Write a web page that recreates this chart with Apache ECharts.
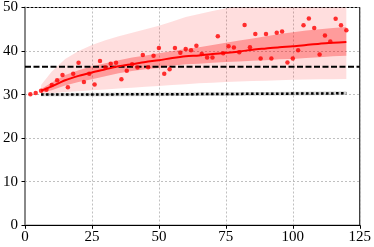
<!DOCTYPE html>
<html><head><meta charset="utf-8">
<script src="https://cdn.jsdelivr.net/npm/echarts@6/dist/echarts.min.js"></script>
<style>html,body{margin:0;padding:0;background:#fff}#c{width:374px;height:247px}</style>
</head><body><div id="c"></div>
<script>
// scatter observations
const pointX = [2,4,6,8,10,12,14,16,18,20,22,24,26,28,30,32,34,36,38,40,42,44,46,48,50,52,54,56,58,60,62,64,66,68,70,72,74,76,78,80,82,84,86,88,90,92,94,96,98,100,102,104,106,108,110,112,114,116,118,120];
const pointY = [30.1,30.4,30.9,31.1,32.2,33.3,34.5,31.7,34.8,37.3,32.9,34.8,32.3,37.7,36.2,37.1,37.3,33.5,35.5,37.0,36.2,39.1,36.3,38.9,40.7,34.8,35.8,40.7,39.6,40.5,40.2,41.2,39.3,38.5,38.5,43.4,39.5,41.1,40.8,39.7,46.0,40.9,43.9,38.3,43.9,38.3,44.2,44.5,37.4,38.3,40.2,45.9,47.5,45.3,39.2,43.6,42.2,47.4,45.9,44.8];
// fitted mean curve and bands
const fitX      = [6,10,15,20,25,30,35,40,45,50,55,60,65,70,75,80,85,90,95,100,105,110,115,120];
const fitMean   = [30.9,31.9,33.3,34.3,35.1,35.8,36.5,37.0,37.5,37.9,38.4,38.8,39.0,39.3,39.6,39.9,40.3,40.6,40.9,41.1,41.4,41.7,41.9,42.1];
const innerHigh = [31.3,32.8,34.5,35.6,36.5,37.2,37.9,38.5,39.0,39.5,40.0,40.5,40.9,41.4,41.9,42.4,42.9,43.4,43.9,44.3,44.7,45.0,45.3,45.5];
const innerLow  = [30.5,31.0,32.1,32.9,33.5,34.2,34.9,35.4,35.8,36.1,36.6,37.0,37.1,37.3,37.5,37.6,37.8,37.9,38.1,38.2,38.4,38.6,38.8,38.9];
const outerHigh = [32.2,35.3,38.2,40.0,41.4,42.5,43.4,44.2,45.0,45.8,46.8,47.8,48.5,49.2,49.8,50.4,51.0,51.6,52.1,52.6,53.0,53.4,53.8,54.1];
const outerLow  = [30.1,30.3,30.6,30.8,31.0,31.2,31.4,31.6,31.8,32.0,32.2,32.4,32.6,32.7,32.9,33.0,33.1,33.2,33.3,33.4,33.45,33.5,33.55,33.6];
// reference levels
const baseX = [6,30,60,90,120];
const baseY = [30.0,30.05,30.1,30.2,30.3];
const baseSpread = 0.4;
const thresholdX = [0,125];
const thresholdY = 36.4;
const xTicks = [0,25,50,75,100,125];
const yTicks = [0,10,20,30,40,50];

const chart = echarts.init(document.getElementById('c'), null, {renderer:'canvas'});
const FONT = '"Liberation Serif", "DejaVu Serif", serif';

function band(xs, lo, hi, color, z){
  return {
    type:'custom', silent:true, clip:true, z:z, animation:false,
    data:[[xs[0], lo[0]]],
    renderItem:function(params, api){
      const pts=[];
      for(let i=0;i<xs.length;i++) pts.push(api.coord([xs[i], hi[i]]));
      for(let i=xs.length-1;i>=0;i--) pts.push(api.coord([xs[i], lo[i]]));
      return {type:'polygon', shape:{points:pts}, style:{fill:color}};
    }
  };
}

const option = {
  animation:false,
  grid:{left:22.7, right:12, top:5.3, bottom:21.7, show:true, borderColor:'#000', borderWidth:1},
  xAxis:{
    type:'value', min:xTicks[0], max:xTicks[xTicks.length-1], interval:25,
    axisLine:{show:true, onZero:false, lineStyle:{color:'#000', width:1.2}},
    axisTick:{show:true, inside:false, length:3.5, lineStyle:{color:'#000', width:1}},
    axisLabel:{color:'#000', fontFamily:FONT, fontSize:15, margin:4},
    splitLine:{show:true, lineStyle:{color:'#b0b0b0', type:[2,2], width:0.8}}
  },
  yAxis:{
    type:'value', min:yTicks[0], max:yTicks[yTicks.length-1], interval:10,
    axisLine:{show:true, onZero:false, lineStyle:{color:'#888', width:2}},
    axisTick:{show:true, inside:false, length:3.5, lineStyle:{color:'#000', width:1}},
    axisLabel:{color:'#000', fontFamily:FONT, fontSize:15, margin:7},
    splitLine:{show:true, lineStyle:{color:'#b0b0b0', type:[2,2], width:0.8}}
  },
  series:[
    band(fitX, outerLow, outerHigh, 'rgba(255,0,0,0.13)', 1),
    band(fitX, innerLow, innerHigh, 'rgba(255,0,0,0.30)', 2),
    band(baseX, baseY.map(v=>v-baseSpread), baseY.map(v=>v+baseSpread), 'rgba(110,110,110,0.35)', 2),
    {type:'line', data:thresholdX.map(x=>[x, thresholdY]), symbol:'none', z:3,
     lineStyle:{color:'#000', width:1.8, type:[6,2.5]}},
    {type:'line', data:baseX.map((x,i)=>[x, baseY[i]]), symbol:'none', z:3,
     lineStyle:{color:'#000', width:2.5, type:[2.5,2.5]}},
    {type:'line', data:fitX.map((x,i)=>[x, fitMean[i]]), symbol:'none', smooth:0.3, z:4,
     lineStyle:{color:'#ff0000', width:2}},
    {type:'scatter', data:pointX.map((x,i)=>[x, pointY[i]]), symbol:'circle', symbolSize:4.5, z:5,
     itemStyle:{color:'#ff0000'}}
  ]
};
chart.setOption(option);
</script></body></html>
